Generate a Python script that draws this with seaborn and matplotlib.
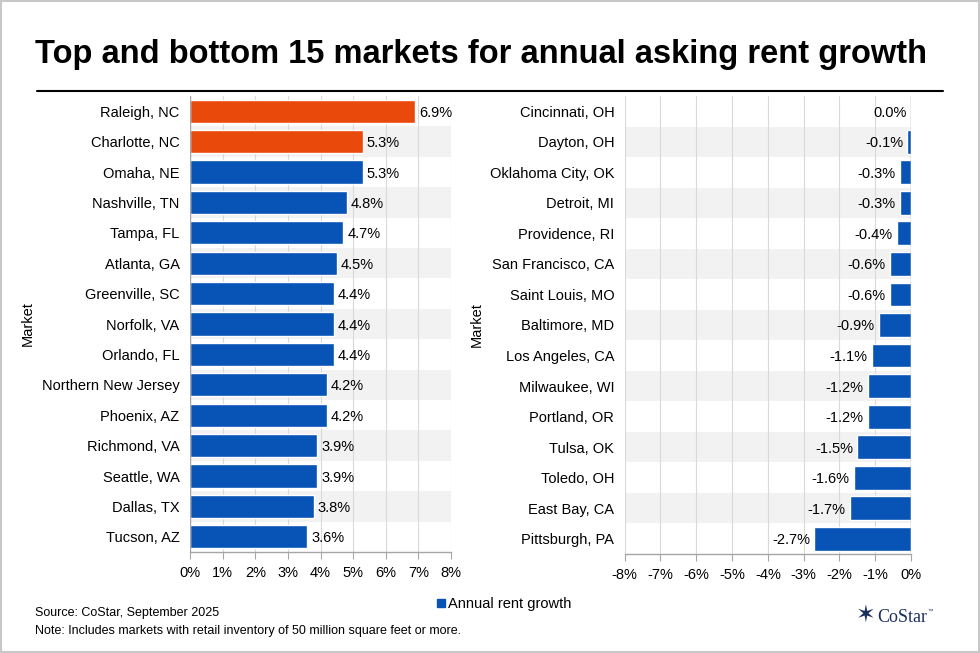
import matplotlib
matplotlib.use("Agg")
import matplotlib.pyplot as plt
import seaborn as sns
import pandas as pd
from matplotlib.lines import Line2D

# Дані
top_markets = ["Raleigh, NC", "Charlotte, NC", "Omaha, NE", "Nashville, TN", "Tampa, FL",
               "Atlanta, GA", "Greenville, SC", "Norfolk, VA", "Orlando, FL", "Northern New Jersey",
               "Phoenix, AZ", "Richmond, VA", "Seattle, WA", "Dallas, TX", "Tucson, AZ"]
top_growth = [6.9, 5.3, 5.3, 4.8, 4.7, 4.5, 4.4, 4.4, 4.4, 4.2, 4.2, 3.9, 3.9, 3.8, 3.6]
top_highlight = [True, True] + [False] * 13

bottom_markets = ["Cincinnati, OH", "Dayton, OH", "Oklahoma City, OK", "Detroit, MI", "Providence, RI",
                  "San Francisco, CA", "Saint Louis, MO", "Baltimore, MD", "Los Angeles, CA", "Milwaukee, WI",
                  "Portland, OR", "Tulsa, OK", "Toledo, OH", "East Bay, CA", "Pittsburgh, PA"]
bottom_growth = [0.0, -0.1, -0.3, -0.3, -0.4, -0.6, -0.6, -0.9, -1.1, -1.2, -1.2, -1.5, -1.6, -1.7, -2.7]

left_ticks = [0, 1, 2, 3, 4, 5, 6, 7, 8]
right_ticks = [-8, -7, -6, -5, -4, -3, -2, -1, 0]

BLUE = "#0753B6"
ORANGE = "#E9490A"
BAND = "#F2F2F2"
GRID = "#D9D9D9"
AXIS = "#A6A6A6"

sns.set_style("white")
plt.rcParams["font.family"] = ["Liberation Sans", "DejaVu Sans"]
plt.rcParams["text.color"] = "black"
plt.rcParams["axes.labelcolor"] = "black"
plt.rcParams["xtick.color"] = "black"
plt.rcParams["ytick.color"] = "black"

fig = plt.figure(figsize=(9.8, 6.53), dpi=100)
ax1 = fig.add_axes([190 / 980, 1 - 552 / 653, 261 / 980, 456 / 653])
ax2 = fig.add_axes([624.7 / 980, 1 - 554 / 653, 286.3 / 980, 458 / 653])


def style_axis(ax, markets, ticks):
    n = len(markets)
    for i in range(1, n, 2):
        ax.axhspan(i - 0.5, i + 0.5, color=BAND, zorder=0, lw=0)
    for t in ticks:
        ax.axvline(t, color=GRID, lw=0.8, zorder=0.5)
    ax.set_xlim(ticks[0], ticks[-1])
    ax.set_ylim(n - 0.5, -0.5)
    ax.set_xticks(ticks)
    ax.set_xticklabels([f"{t}%" for t in ticks], fontsize=10.5)
    ax.set_ylabel("Market", fontsize=10.5)
    ax.tick_params(axis="y", length=0, pad=7.5, labelsize=10.5)
    ax.tick_params(axis="x", length=5, width=0.8, color=AXIS, direction="out", pad=5, bottom=True)
    for s in ["top", "right", "left"]:
        ax.spines[s].set_visible(False)
    ax.spines["bottom"].set_color(AXIS)
    ax.spines["bottom"].set_linewidth(1)
    ax.set_xlabel("")


# Ліва частина: топ 15
df_top = pd.DataFrame({"market": top_markets, "growth": top_growth})
top_colors = {m: (ORANGE if h else BLUE) for m, h in zip(top_markets, top_highlight)}
sns.barplot(data=df_top, x="growth", y="market", hue="market", palette=top_colors,
            legend=False, width=0.76, ax=ax1, zorder=2, saturation=1)
style_axis(ax1, top_markets, left_ticks)
ax1.axvline(0, color=AXIS, lw=1, zorder=3)
for i, v in enumerate(top_growth):
    ax1.text(v + 0.12, i, f"{v:.1f}%", va="center_baseline", ha="left", fontsize=10.5)
ax1.yaxis.labelpad = 5

# Права частина: нижні 15
df_bot = pd.DataFrame({"market": bottom_markets, "growth": bottom_growth})
sns.barplot(data=df_bot, x="growth", y="market", color=BLUE, width=0.78,
            ax=ax2, zorder=2, saturation=1)
style_axis(ax2, bottom_markets, right_ticks)
ax2.axvline(0, color=AXIS, lw=1, zorder=3)
for i, v in enumerate(bottom_growth):
    ax2.text(v - 0.12, i, f"{v:.1f}%", va="center_baseline", ha="right", fontsize=10.5)
ax2.yaxis.labelpad = 4

# Заголовок і лінія
fig.text(35 / 980, 1 - 54 / 653, "Top and bottom 15 markets for annual asking rent growth",
         fontsize=23.5, fontweight="bold", va="center", ha="left")
fig.add_artist(Line2D([37 / 980, 943 / 980], [1 - 91 / 653, 1 - 91 / 653], color="black", lw=1.5))

# Легенда
handle = Line2D([], [], marker="s", color=BLUE, lw=0, markersize=6)
fig.legend([handle], ["Annual rent growth"], loc="center", bbox_to_anchor=(503 / 980, 1 - 604 / 653),
           frameon=False, fontsize=10.5, handletextpad=0.1, handlelength=0.8)

# Джерело
fig.text(35 / 980, 1 - 613 / 653, "Source: CoStar, September 2025", fontsize=9, va="center")
fig.text(35 / 980, 1 - 631 / 653, "Note: Includes markets with retail inventory of 50 million square feet or more.",
         fontsize=9, va="center")

# Логотип
fig.text(866 / 980, 1 - 617 / 653, "\u2736", fontsize=17, color="#1B2F5E", va="center", ha="center")
fig.text(877 / 980, 1 - 617 / 653, "CoStar", fontsize=13, color="#1B2F5E", va="center", ha="left",
         family=["Liberation Serif", "DejaVu Serif"])
fig.text(927 / 980, 1 - 611 / 653, "\u2122", fontsize=4, color="#1B2F5E", va="center", ha="left")

# Рамка
fig.add_artist(plt.Rectangle((0.001, 0.001), 0.998, 0.998, transform=fig.transFigure,
                             fill=False, edgecolor="#C8C8C8", lw=1.5))

fig.savefig("out.png", dpi=100)
